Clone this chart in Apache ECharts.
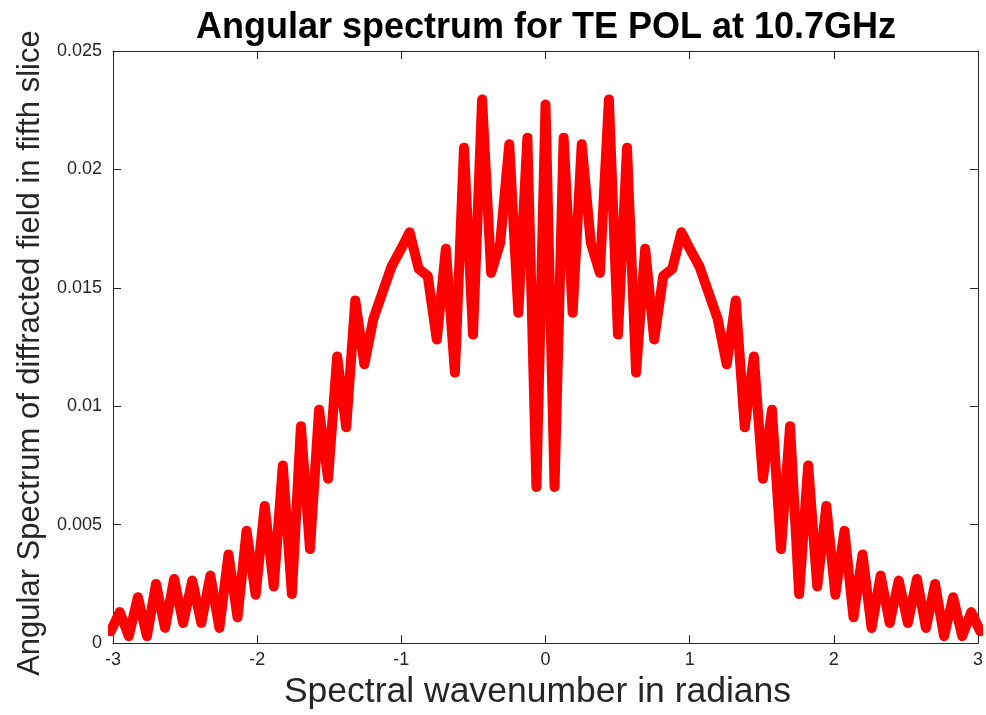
<!DOCTYPE html>
<html>
<head>
<meta charset="utf-8">
<script src="https://cdn.jsdelivr.net/npm/echarts@6/dist/echarts.min.js"></script>
<style>
html,body{margin:0;padding:0;background:#fff;}
#chart{width:986px;height:715px;}
</style>
</head>
<body>
<div id="chart"></div>
<script>
var titleText = 'Angular spectrum for TE POL at 10.7GHz';
var xName = 'Spectral wavenumber in radians';
var yName = 'Angular Spectrum of diffracted field in fifth slice';
var xTicks = [-3, -2, -1, 0, 1, 2, 3];
var yTickLabels = ['0', '0.005', '0.01', '0.015', '0.02', '0.025'];

var wavenumber = [
 -3.0159, -2.9531, -2.8903, -2.8274, -2.7646, -2.7018, -2.6389, -2.5761, -2.5133, -2.4504,
 -2.3876, -2.3248, -2.2619, -2.1991, -2.1363, -2.0735, -2.0106, -1.9478, -1.8850, -1.8221,
 -1.7593, -1.6965, -1.6336, -1.5708, -1.5080, -1.4451, -1.3823, -1.3195, -1.2566, -1.1938,
 -1.1310, -1.0681, -1.0053, -0.9425, -0.8796, -0.8168, -0.7540, -0.6912, -0.6283, -0.5655,
 -0.5027, -0.4398, -0.3770, -0.3142, -0.2513, -0.1885, -0.1257, -0.0628, 0,
 0.0628, 0.1257, 0.1885, 0.2513, 0.3142, 0.3770, 0.4398, 0.5027, 0.5655, 0.6283,
 0.6912, 0.7540, 0.8168, 0.8796, 0.9425, 1.0053, 1.0681, 1.1310, 1.1938, 1.2566,
 1.3195, 1.3823, 1.4451, 1.5080, 1.5708, 1.6336, 1.6965, 1.7593, 1.8221, 1.8850,
 1.9478, 2.0106, 2.0735, 2.1363, 2.1991, 2.2619, 2.3248, 2.3876, 2.4504, 2.5133,
 2.5761, 2.6389, 2.7018, 2.7646, 2.8274, 2.8903, 2.9531, 3.0159
];

var spectrum = [
 0.0005, 0.00131, 0.00029, 0.00194, 0.00029, 0.0025, 0.00064, 0.00271, 0.00085, 0.00264,
 0.00085, 0.00285, 0.00064, 0.00374, 0.00109, 0.00474, 0.00204, 0.00579, 0.00239, 0.0075,
 0.00207, 0.00916, 0.00397, 0.00985, 0.00694, 0.0121, 0.00911, 0.01447, 0.01177, 0.0137,
 0.0148, 0.0159, 0.0166, 0.01735, 0.0158, 0.0155, 0.01282, 0.01665, 0.01142, 0.02092,
 0.01303, 0.02295, 0.01563, 0.0169, 0.02106, 0.01395, 0.02134, 0.00659, 0.02274,
 0.00659, 0.02134, 0.01395, 0.02106, 0.0169, 0.01563, 0.02295, 0.01303, 0.02092, 0.01142,
 0.01665, 0.01282, 0.0155, 0.0158, 0.01735, 0.0166, 0.0159, 0.0148, 0.0137, 0.01177,
 0.01447, 0.00911, 0.0121, 0.00694, 0.00985, 0.00397, 0.00916, 0.00207, 0.0075, 0.00239,
 0.00579, 0.00204, 0.00474, 0.00109, 0.00374, 0.00064, 0.00285, 0.00085, 0.00264, 0.00085,
 0.00271, 0.00064, 0.0025, 0.00029, 0.00194, 0.00029, 0.00131, 0.0005
];

var points = wavenumber.map(function (x, i) { return [x, spectrum[i]]; });

var FONT = "'Liberation Sans', Arial, Helvetica, sans-serif";
var AX = '#262626';

function xAxisCfg(pos, showLabels) {
  return {
    type: 'value', position: pos, min: xTicks[0], max: xTicks[xTicks.length - 1], interval: 1,
    axisLine: { show: true, onZero: false, lineStyle: { color: AX, width: 1 } },
    axisTick: { show: true, inside: true, length: 8, lineStyle: { color: AX, width: 1 } },
    splitLine: { show: false },
    axisLabel: { show: showLabels, fontFamily: FONT, fontSize: 18, color: AX, margin: 8,
      formatter: function (v) { return String(v); } },
    name: showLabels ? xName : '', nameLocation: 'middle', nameGap: 29,
    nameTextStyle: { fontFamily: FONT, fontSize: 35.5, color: AX, padding: [0, 16, 0, 0] }
  };
}
function yAxisCfg(pos, showLabels) {
  return {
    type: 'value', position: pos, min: 0, max: 0.025, interval: 0.005,
    axisLine: { show: true, onZero: false, lineStyle: { color: AX, width: 1 } },
    axisTick: { show: true, inside: true, length: 8, lineStyle: { color: AX, width: 1 } },
    splitLine: { show: false },
    axisLabel: { show: showLabels, fontFamily: FONT, fontSize: 18, color: AX, margin: 11,
      formatter: function (v) { return yTickLabels[Math.round(v / 0.005)]; } },
    name: showLabels ? yName : '', nameLocation: 'middle', nameGap: 64,
    nameTextStyle: { fontFamily: FONT, fontSize: 31, color: AX, padding: [0, 12, 0, 0] }
  };
}

var chart = echarts.init(document.getElementById('chart'), null, { renderer: 'canvas' });
chart.setOption({
  animation: false,
  backgroundColor: '#ffffff',
  title: {
    text: titleText, left: 541, top: 5, textAlign: 'center',
    textStyle: { fontFamily: FONT, fontSize: 36, fontWeight: 'bold', color: '#000' }
  },
  grid: { left: 113, top: 51, width: 868, height: 595, containLabel: false },
  xAxis: [xAxisCfg('bottom', true), xAxisCfg('top', false)],
  yAxis: [yAxisCfg('left', true), yAxisCfg('right', false)],
  series: [{
    type: 'line', xAxisIndex: 0, yAxisIndex: 0, data: points,
    showSymbol: false, symbol: 'none', clip: true,
    lineStyle: { color: '#ff0000', width: 10, cap: 'round', join: 'round' }
  }]
});
</script>
</body>
</html>
